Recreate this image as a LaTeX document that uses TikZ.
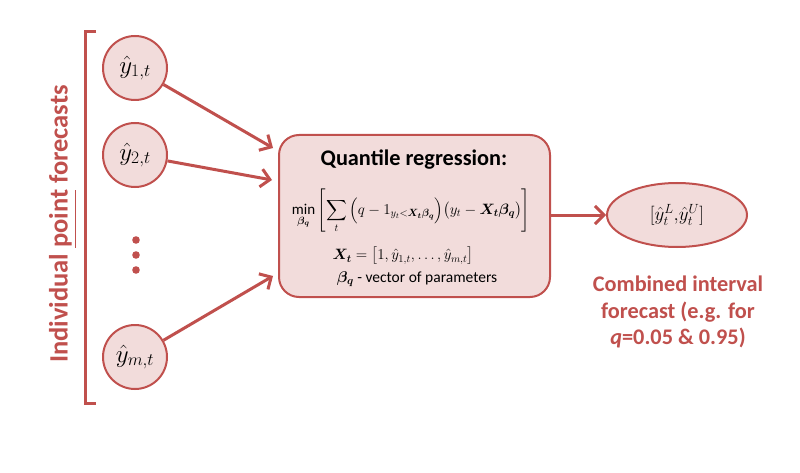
\RequirePackage{fix-cm}
\documentclass[tikz,border=0pt]{standalone}
\usepackage{amsmath,bm}
\usepackage{fontspec}
\setmainfont{Carlito}
\usetikzlibrary{arrows.meta,shapes.geometric}
\definecolor{accent}{HTML}{C0504D}
\definecolor{pinkfill}{HTML}{F2DCDB}
\begin{document}
\begin{tikzpicture}[x=1pt,y=-1pt,
  fc/.style={circle,draw=accent,fill=pinkfill,line width=2pt,minimum size=64pt,inner sep=0pt,font=\fontsize{25}{28}\selectfont},
  conn/.style={draw=accent,line width=3pt,-{Straight Barb[length=9pt,width=18pt,line width=3pt]}},
  lbl/.style={text=accent,font=\fontsize{22.3}{26.5}\selectfont\bfseries,align=center},
  txt/.style={inner sep=0pt}]
\useasboundingbox (0,0) rectangle (800,473);
% bracket
\draw[accent,line width=3pt] (96,32) -- (85,32) -- (85,403) -- (96,403);
\node[text=accent,rotate=90,font=\fontsize{26.5}{30}\selectfont\bfseries] (side) at (63,224) {Individual \underline{point} forecasts};
% forecast circles
\node[fc] (y1) at (135,68) {$\hat{y}_{1,t}$};
\node[fc] (y2) at (135,155) {$\hat{y}_{2,t}$};
\node[fc] (ym) at (135,357) {$\hat{y}_{m,t}$};
\fill[accent] (136,240) circle (3.8pt) (136,255) circle (3.8pt) (136,270) circle (3.8pt);
% quantile box
\node[draw=accent,fill=pinkfill,line width=2pt,rounded corners=20pt,minimum width=271pt,minimum height=162pt] (qr) at (414.5,216) {};
\node[txt,font=\fontsize{22.3}{26}\selectfont\bfseries] (title) at (414,160) {Quantile regression:};
\node[txt,font=\fontsize{15}{18}\selectfont] (f1) at (411,211) {$\displaystyle\min_{\bm{\beta_q}}\left[\sum_t\Big(q-1_{y_t<\bm{X_t}\bm{\beta_q}}\Big)\big(y_t-\bm{X_t}\bm{\beta_q}\big)\right]$};
\node[txt,font=\fontsize{15}{18}\selectfont] (f2) at (403,256) {$\bm{X_t}=\big[1,\hat{y}_{1,t},\dots,\hat{y}_{m,t}\big]$};
\node[txt,font=\fontsize{15.5}{18}\selectfont] (f3) at (417,279) {$\bm{\beta_q}$ - vector of parameters};
% output ellipse
\node[ellipse,draw=accent,fill=pinkfill,line width=2pt,minimum width=140pt,minimum height=64pt,inner sep=0pt,font=\fontsize{19}{23}\selectfont] (out) at (677,215) {$[\hat{y}_t^L{,}\hat{y}_t^U]$};
\node[lbl] (cap) at (678,312) {Combined interval\\forecast (e.g. for\\\textit{q}=0.05 \& 0.95)};
% connectors
\coordinate (a1) at (273,148);
\coordinate (a2) at (272,180);
\coordinate (a3) at (273,276);
\draw[conn] (y1) -- (a1);
\draw[conn] (y2) -- (a2);
\draw[conn] (ym) -- (a3);
\draw[conn] (qr.east |- out.west) -- (out.west);
\end{tikzpicture}
\end{document}
